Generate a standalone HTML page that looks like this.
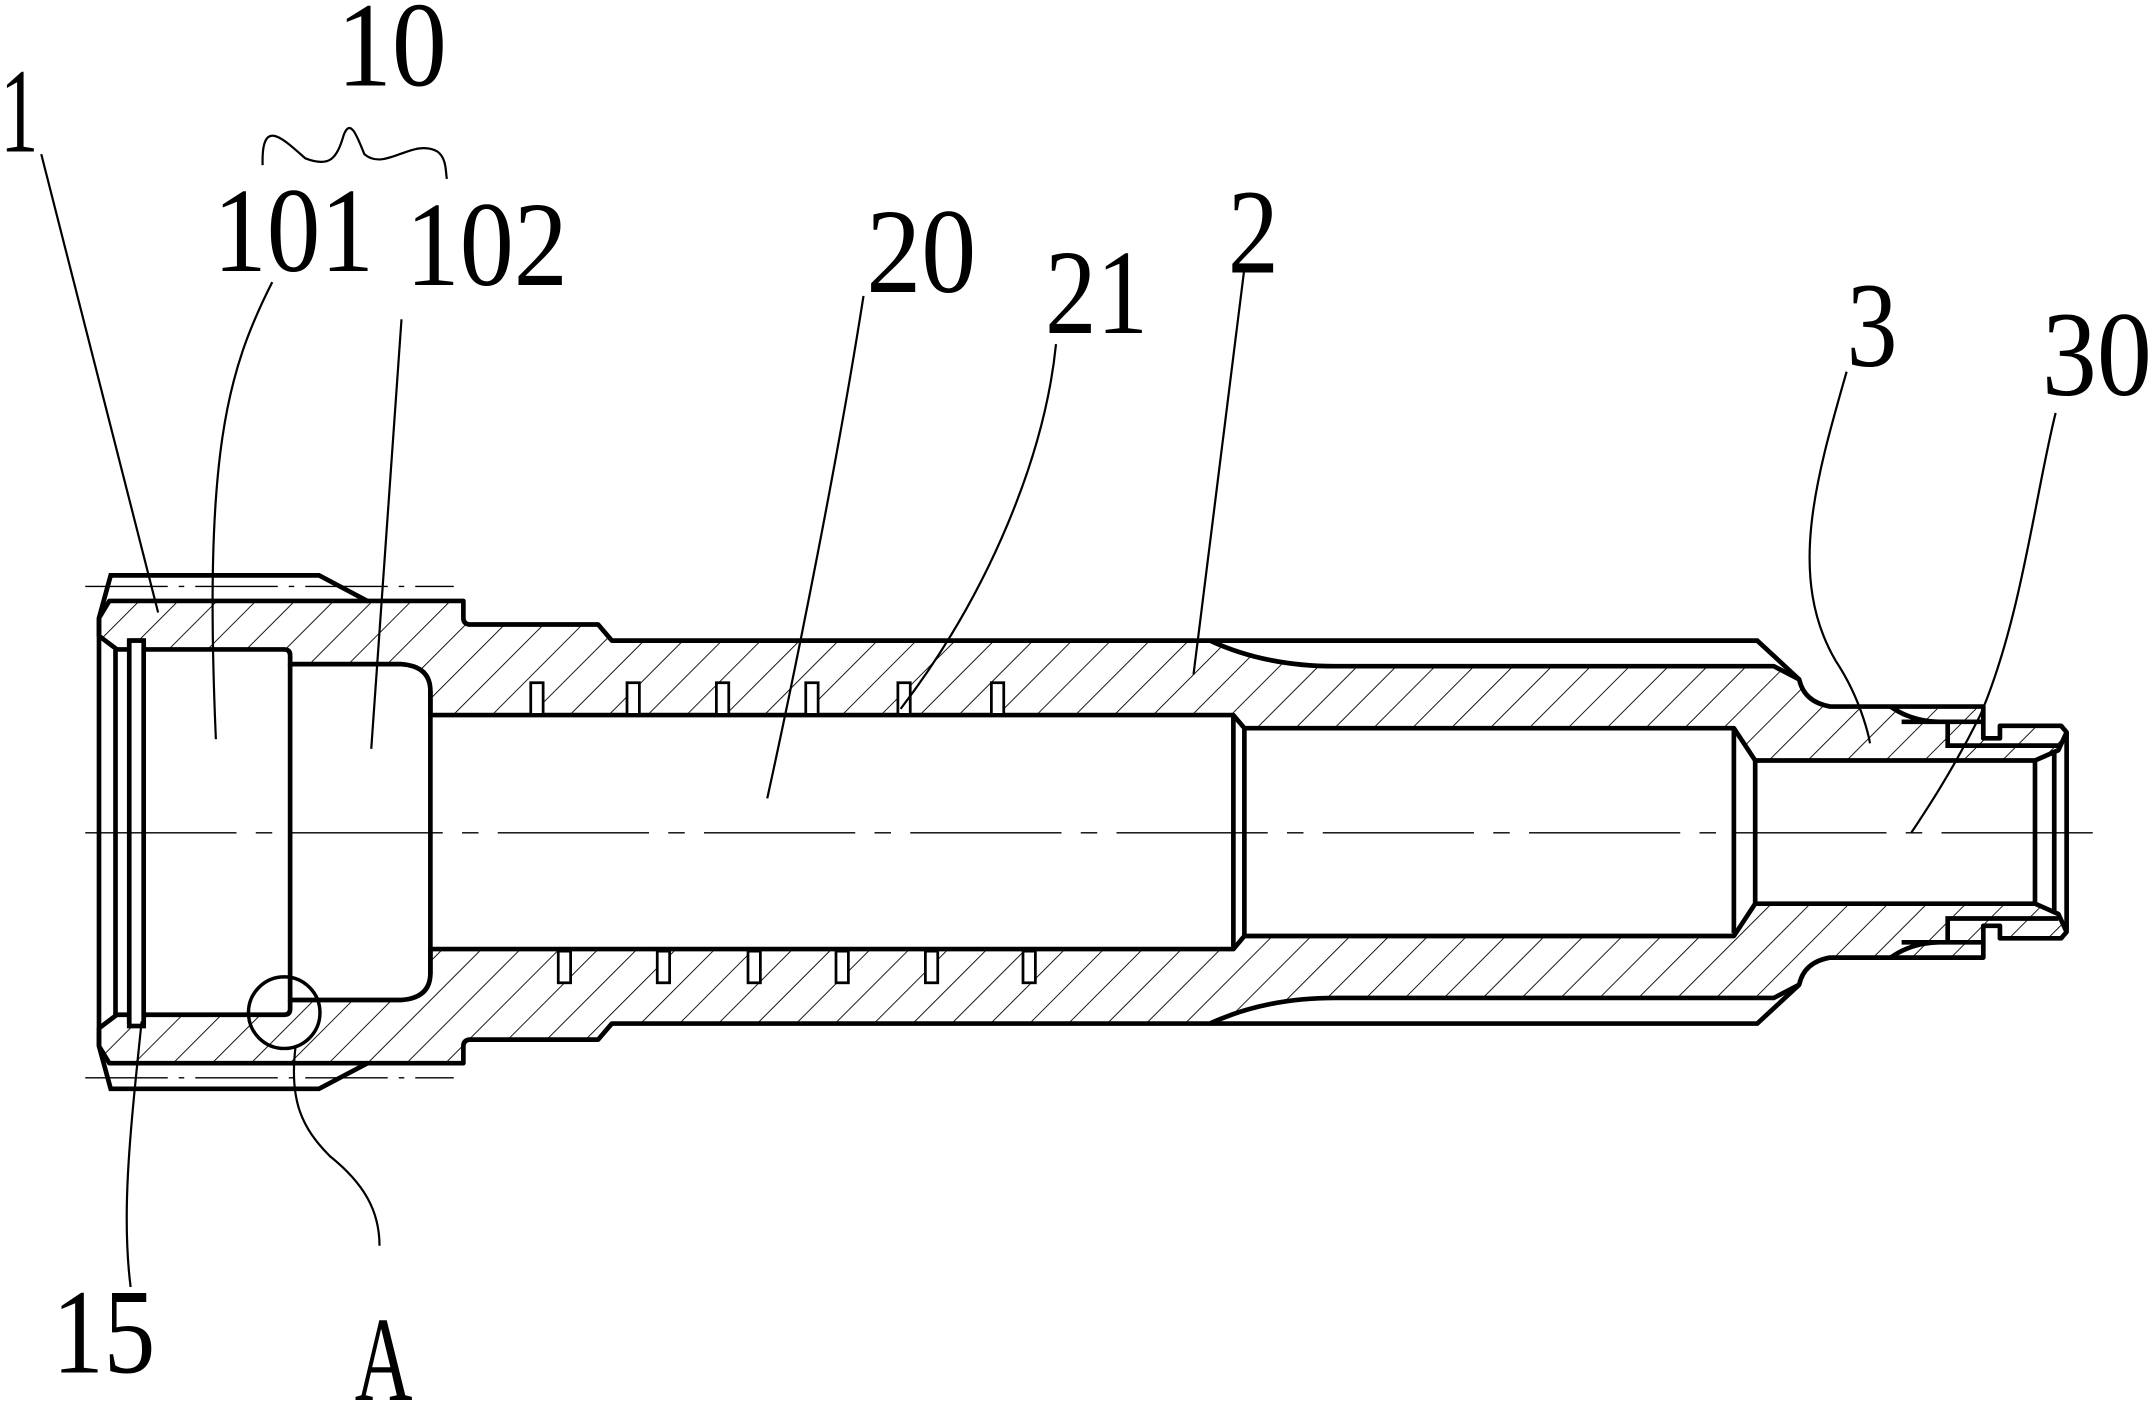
<!DOCTYPE html>
<html><head><meta charset="utf-8"><style>
html,body{margin:0;padding:0;background:#fff;}
svg{display:block;}
text{font-family:"Liberation Serif",serif;font-size:88px;fill:#000;}
</style></head><body>
<svg width="2156" height="1404" viewBox="0 0 1568 1020" preserveAspectRatio="none" xmlns="http://www.w3.org/2000/svg">
<defs>
<pattern id="h1" width="20" height="20" patternUnits="userSpaceOnUse" patternTransform="rotate(45)">
<line x1="0" y1="0" x2="0" y2="20" stroke="#000" stroke-width="1.3"/></pattern>
<pattern id="h2" width="20" height="20" patternUnits="userSpaceOnUse" patternTransform="rotate(-45)">
<line x1="0" y1="0" x2="0" y2="20" stroke="#000" stroke-width="1.3"/></pattern>
<g id="half">
<path d="M72,462 L85,471.8 L94,471.8 L94,465.4 L104.5,465.4 L104.5,471.8 L207,471.8 Q211,472 211,476 L211,482.5 L292,482.5 Q313,484 313,502 L313,519.5 L897,519.5 L905,529 L1261,529 L1276.5,552.5 L1480,552.5 L1497,545 L1503,532 L1499,527.3 L1454.5,527.3 L1454.5,536.4 L1442.4,536.4 L1442.4,513.3 L1331,513.3 Q1312,510 1308.5,493.6 L1290,484 L971,484 Q920,484 880,465.4 L445,465.4 L435,453.7 L341,453.7 Q337,453 337,449 L337,436.6 L79.5,436.6 L72,449 Z" stroke="#000" stroke-width="3.4" stroke-linejoin="round"/>
<path d="M72,449 L80.5,418 L232,418 L268,437 M880,465.4 L1278,465.4 L1308.5,493.6 M1383,524.4 L1442,524.4 M1375,513.3 Q1390,524 1410,524.4 M1416.5,524.4 L1416.5,541.7 L1497,541.7" fill="none" stroke="#000" stroke-width="3.4"/>
<line x1="62" y1="426" x2="330" y2="426" stroke="#000" stroke-width="1" stroke-dasharray="60,8,4,8"/>
</g>
</defs>
<use href="#half" fill="url(#h1)"/>
<g transform="translate(0,1209) scale(1,-1)"><use href="#half" fill="url(#h2)"/></g>
<g fill="none" stroke="#000" stroke-width="3.4">
<line x1="72" y1="449" x2="72" y2="760"/>
<line x1="84" y1="472" x2="84" y2="738"/>
<rect x="94" y="465.4" width="10.5" height="280" fill="#fff"/>
<line x1="211" y1="482" x2="211" y2="727"/>
<line x1="313" y1="502" x2="313" y2="708"/>
<line x1="897" y1="519.5" x2="897" y2="690"/>
<line x1="905" y1="529" x2="905" y2="680"/>
<line x1="1261" y1="529" x2="1261" y2="678"/>
<line x1="1276.5" y1="552.5" x2="1276.5" y2="656"/>
<line x1="1480" y1="552.5" x2="1480" y2="656"/>
<line x1="1494" y1="545" x2="1494" y2="664"/>
<line x1="1503" y1="532" x2="1503" y2="676"/>
</g>
<g fill="#fff" stroke="#000" stroke-width="2">
<rect x="386" y="496" width="9" height="23"/><rect x="456" y="496" width="9" height="23"/><rect x="521" y="496" width="9" height="23"/><rect x="586" y="496" width="9" height="23"/><rect x="653" y="496" width="9" height="23"/><rect x="721" y="496" width="9" height="23"/>
<rect x="406" y="691" width="9" height="23"/><rect x="478" y="691" width="9" height="23"/><rect x="544" y="691" width="9" height="23"/><rect x="608" y="691" width="9" height="23"/><rect x="673" y="691" width="9" height="23"/><rect x="744" y="691" width="9" height="23"/>
</g>
<line x1="62" y1="605" x2="1525" y2="605" stroke="#000" stroke-width="1" stroke-dasharray="110,14,12,14"/>
<ellipse cx="206.7" cy="735.7" rx="26" ry="26" fill="none" stroke="#000" stroke-width="2.5"/>
<g fill="none" stroke="#000" stroke-width="1.6">
<path d="M30,112 L115,445"/>
<path d="M198,205 C165,270 148,330 157,537"/>
<path d="M292,232 L270,544"/>
<path d="M628,215 C610,330 580,480 558,580"/>
<path d="M768,250 C760,330 720,430 655,515"/>
<path d="M905,195 L868,490"/>
<path d="M1343,270 C1320,350 1300,420 1335,480 C1355,510 1360,540 1360,540"/>
<path d="M1495,300 C1480,360 1470,450 1440,520 C1420,560 1400,590 1390,605"/>
<path d="M103,742 C95,820 88,880 95,935"/>
<path d="M215,760 C210,800 220,820 240,840 C265,860 276,880 276,905"/>
<path d="M191,120 C190,85 205,100 222,115 C240,122 245,115 250,98 C255,85 260,100 265,112 C280,125 300,100 318,110 C325,115 324,125 325,130"/>
</g>
<text x="0" y="110" textLength="28" lengthAdjust="spacingAndGlyphs">1</text>
<text x="245" y="62" textLength="80" lengthAdjust="spacingAndGlyphs">10</text>
<text x="155" y="197" textLength="117" lengthAdjust="spacingAndGlyphs">101</text>
<text x="295" y="207" textLength="118" lengthAdjust="spacingAndGlyphs">102</text>
<text x="630" y="212" textLength="80" lengthAdjust="spacingAndGlyphs">20</text>
<text x="760" y="242" textLength="75" lengthAdjust="spacingAndGlyphs">21</text>
<text x="893" y="198" textLength="37" lengthAdjust="spacingAndGlyphs">2</text>
<text x="1343" y="266" textLength="37" lengthAdjust="spacingAndGlyphs">3</text>
<text x="1485" y="287" textLength="80" lengthAdjust="spacingAndGlyphs">30</text>
<text x="38" y="997" textLength="75" lengthAdjust="spacingAndGlyphs">15</text>
<text x="258" y="1017" textLength="42" lengthAdjust="spacingAndGlyphs">A</text>
</svg>
</body></html>
